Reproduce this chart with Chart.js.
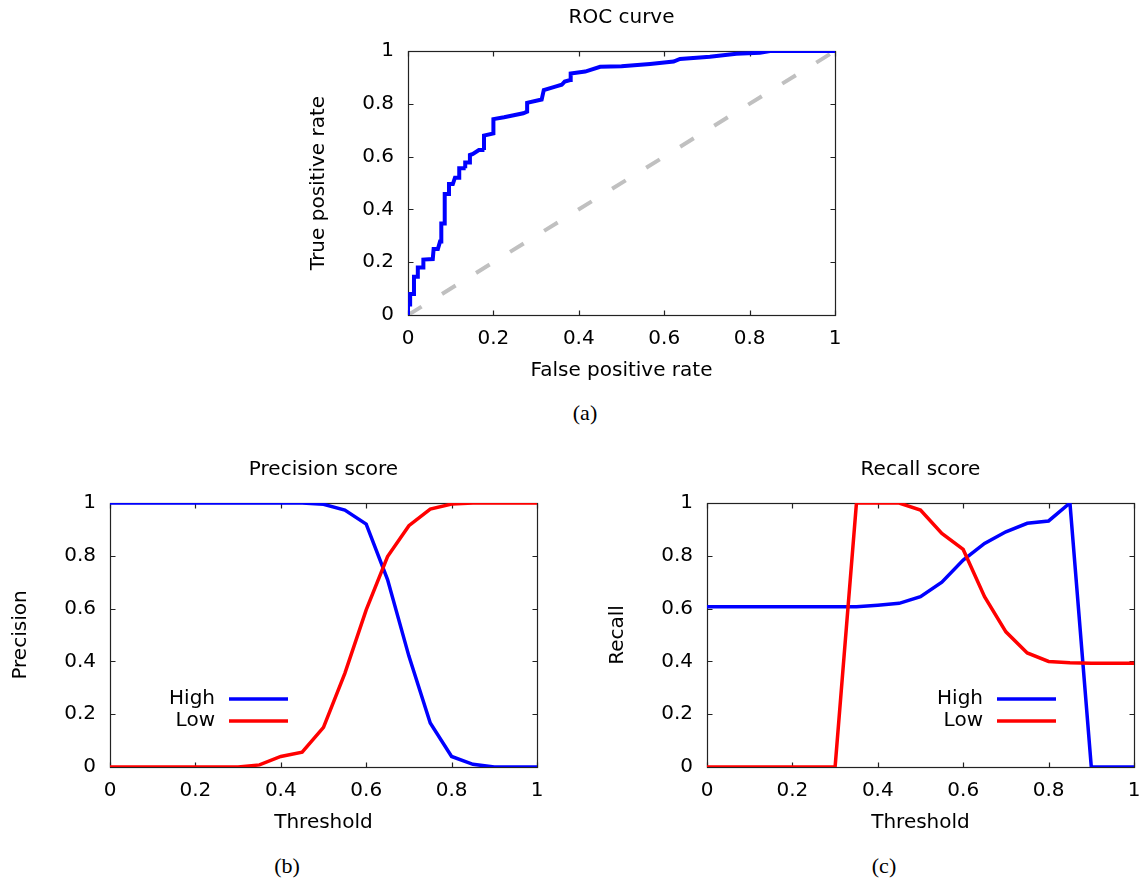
<!DOCTYPE html>
<html>
<head>
<meta charset="utf-8">
<script src="https://cdn.jsdelivr.net/npm/chart.js@4/dist/chart.umd.min.js"></script>
<style>
html,body{margin:0;padding:0;width:1140px;height:883px;overflow:hidden;background:#fff;}
body{position:relative;}
canvas{position:absolute;}
.cap{position:absolute;font-family:"Liberation Serif",serif;font-size:22px;color:#000;transform:translate(-50%,-50%);white-space:nowrap;}
</style>
</head>
<body>
<canvas id="roc" width="536" height="385" style="left:307px;top:0px;width:536px;height:385px"></canvas>
<canvas id="prec" width="536" height="385" style="left:9px;top:452px;width:536px;height:385px"></canvas>
<canvas id="rec" width="536" height="385" style="left:606px;top:452px;width:536px;height:385px"></canvas>
<div class="cap" style="left:585px;top:413px">(a)</div>
<div class="cap" style="left:287px;top:866px">(b)</div>
<div class="cap" style="left:884px;top:866px">(c)</div>
<script>
// ---------- data ----------
const tickLabels = ['0', '0.2', '0.4', '0.6', '0.8', '1'];

const rocFpr = [0, 0, 0.005, 0.005, 0.014, 0.014, 0.023, 0.023, 0.036, 0.036, 0.058, 0.06, 0.07, 0.075, 0.078, 0.078, 0.086, 0.086, 0.095, 0.096, 0.105, 0.11, 0.12, 0.12, 0.135, 0.134, 0.145, 0.145, 0.152, 0.166, 0.179, 0.178, 0.2, 0.2, 0.225, 0.27, 0.279, 0.279, 0.313, 0.318, 0.345, 0.36, 0.367, 0.38, 0.381, 0.415, 0.45, 0.5, 0.567, 0.622, 0.637, 0.707, 0.769, 0.824, 0.848, 1];
const rocTpr = [0, 0.04, 0.04, 0.08, 0.08, 0.145, 0.145, 0.18, 0.18, 0.21, 0.212, 0.25, 0.25, 0.278, 0.278, 0.347, 0.347, 0.458, 0.458, 0.496, 0.496, 0.52, 0.52, 0.556, 0.556, 0.578, 0.578, 0.606, 0.61, 0.625, 0.625, 0.68, 0.688, 0.742, 0.749, 0.764, 0.77, 0.804, 0.816, 0.852, 0.865, 0.872, 0.884, 0.89, 0.915, 0.922, 0.94, 0.942, 0.951, 0.96, 0.97, 0.978, 0.99, 0.993, 1, 1];
const diagX = [0, 1];
const diagY = [0, 1];

const thresholds = [0, 0.05, 0.1, 0.15, 0.2, 0.25, 0.3, 0.35, 0.4, 0.45, 0.5, 0.55, 0.6, 0.65, 0.7, 0.75, 0.8, 0.85, 0.9, 0.95, 1];
const precisionHigh = [1, 1, 1, 1, 1, 1, 1, 1, 1, 1, 0.995, 0.973, 0.92, 0.71, 0.42, 0.167, 0.04, 0.01, 0, 0, 0];
const precisionLow  = [0, 0, 0, 0, 0, 0, 0, 0.008, 0.04, 0.056, 0.15, 0.355, 0.595, 0.797, 0.914, 0.977, 0.996, 1, 1, 1, 1];
const recallHigh = [0.607, 0.607, 0.607, 0.607, 0.607, 0.607, 0.607, 0.607, 0.613, 0.62, 0.645, 0.70, 0.784, 0.847, 0.891, 0.923, 0.932, 1, 0, 0, 0];
const recallLow  = [0, 0, 0, 0, 0, 0, 0, 1, 1, 1, 0.973, 0.885, 0.824, 0.645, 0.512, 0.432, 0.40, 0.395, 0.393, 0.393, 0.393];
const seriesNames = ['High', 'Low'];

// ---------- helpers ----------
const FONT = '"DejaVu Sans", sans-serif';
const FS = 20;
Chart.defaults.font.family = FONT;
Chart.defaults.font.size = FS;
Chart.defaults.color = '#000';

const pts = (xs, ys) => xs.map((v, i) => ({x: v, y: ys[i]}));

const gpFrame = {
  id: 'gpFrame',
  beforeDatasetsDraw(chart) {
    const {ctx, chartArea: a, scales: {x, y}} = chart;
    const L = Math.round(a.left) + 0.5, R = Math.round(a.right) + 0.5;
    const T = Math.round(a.top) + 0.5, B = Math.round(a.bottom) + 0.5;
    ctx.save();
    ctx.strokeStyle = '#222';
    ctx.lineWidth = 1.2;
    ctx.strokeRect(L, T, R - L, B - T);
    const tl = 5;
    ctx.beginPath();
    x.ticks.forEach(t => {
      const px = Math.round(x.getPixelForValue(t.value)) + 0.5;
      ctx.moveTo(px, B); ctx.lineTo(px, B - tl);
      ctx.moveTo(px, T); ctx.lineTo(px, T + tl);
    });
    y.ticks.forEach(t => {
      const py = Math.round(y.getPixelForValue(t.value)) + 0.5;
      ctx.moveTo(L, py); ctx.lineTo(L + tl, py);
      ctx.moveTo(R, py); ctx.lineTo(R - tl, py);
    });
    ctx.stroke();
    ctx.restore();
  }
};

const gpTitle = {
  id: 'gpTitle',
  afterDraw(chart, args, opts) {
    if (!opts || !opts.text) return;
    const {ctx, chartArea: a} = chart;
    ctx.save();
    ctx.font = FS + 'px ' + FONT;
    ctx.fillStyle = '#000';
    ctx.textAlign = 'center';
    ctx.textBaseline = 'middle';
    ctx.fillText(opts.text, (a.left + a.right) / 2, a.top - opts.offset);
    ctx.restore();
  }
};

const gpLegend = {
  id: 'gpLegend',
  afterDatasetsDraw(chart, args, opts) {
    if (!opts || !opts.display) return;
    const {ctx, chartArea: a} = chart;
    ctx.save();
    ctx.font = FS + 'px ' + FONT;
    ctx.fillStyle = '#000';
    ctx.textAlign = 'right';
    ctx.textBaseline = 'middle';
    chart.data.datasets.forEach((ds, i) => {
      const yy = a.bottom - opts.rowY[i];
      ctx.fillText(ds.label, a.left + opts.textRight, yy);
      ctx.strokeStyle = ds.borderColor;
      ctx.lineWidth = ds.borderWidth;
      ctx.beginPath();
      ctx.moveTo(a.left + opts.lineStart, yy);
      ctx.lineTo(a.left + opts.lineEnd, yy);
      ctx.stroke();
    });
    ctx.restore();
  }
};

function axis(titleText, isX) {
  return {
    type: 'linear', min: 0, max: 1,
    ticks: {stepSize: 0.2, padding: isX ? 12 : 14, color: '#000', font: {size: FS},
            maxRotation: 0, autoSkip: false, callback: (v, i) => tickLabels[i]},
    grid: {display: false, drawTicks: false},
    border: {display: false},
    title: {display: true, text: titleText, color: '#000', font: {size: FS},
            padding: isX ? {top: 0, bottom: 2} : {top: 0, bottom: 0}},
    afterFit(s) {
      if (isX) { s.height = 70; s.paddingLeft = 0; s.paddingRight = 0; }
      else { s.width = 101; s.paddingTop = 0; s.paddingBottom = 0; }
    }
  };
}

function makeChart(id, datasets, title, xTitle, yTitle, legend) {
  return new Chart(document.getElementById(id), {
    type: 'line',
    data: {datasets},
    options: {
      responsive: false, animation: false, devicePixelRatio: 1,
      layout: {padding: {left: 0, right: 8, top: 51, bottom: 0}},
      elements: {point: {radius: 0}, line: {tension: 0}},
      plugins: {
        legend: {display: false}, tooltip: {enabled: false}, title: {display: false},
        gpTitle: {text: title, offset: 33},
        gpLegend: legend || {display: false}
      },
      scales: {x: axis(xTitle, true), y: axis(yTitle, false)}
    },
    plugins: [gpFrame, gpTitle, gpLegend]
  });
}

makeChart('roc', [
  {label: 'ROC', data: pts(rocFpr, rocTpr), borderColor: '#0000ff', borderWidth: 4, order: 1, borderJoinStyle: 'miter'},
  {label: 'Random', data: pts(diagX, diagY), borderColor: '#c0c0c0', borderWidth: 4, borderDash: [16, 24], borderCapStyle: 'butt', order: 2}
], 'ROC curve', 'False positive rate', 'True positive rate', null);

makeChart('prec', [
  {label: seriesNames[0], data: pts(thresholds, precisionHigh), borderColor: '#0000ff', borderWidth: 3.5, order: 2},
  {label: seriesNames[1], data: pts(thresholds, precisionLow), borderColor: '#ff0000', borderWidth: 3.5, order: 1}
], 'Precision score', 'Threshold', 'Precision',
  {display: true, textRight: 105, lineStart: 119, lineEnd: 178, rowY: [68, 46]});

makeChart('rec', [
  {label: seriesNames[0], data: pts(thresholds, recallHigh), borderColor: '#0000ff', borderWidth: 3.5, order: 2},
  {label: seriesNames[1], data: pts(thresholds, recallLow), borderColor: '#ff0000', borderWidth: 3.5, order: 1}
], 'Recall score', 'Threshold', 'Recall',
  {display: true, textRight: 276, lineStart: 290, lineEnd: 349, rowY: [68, 46]});
</script>
</body>
</html>
